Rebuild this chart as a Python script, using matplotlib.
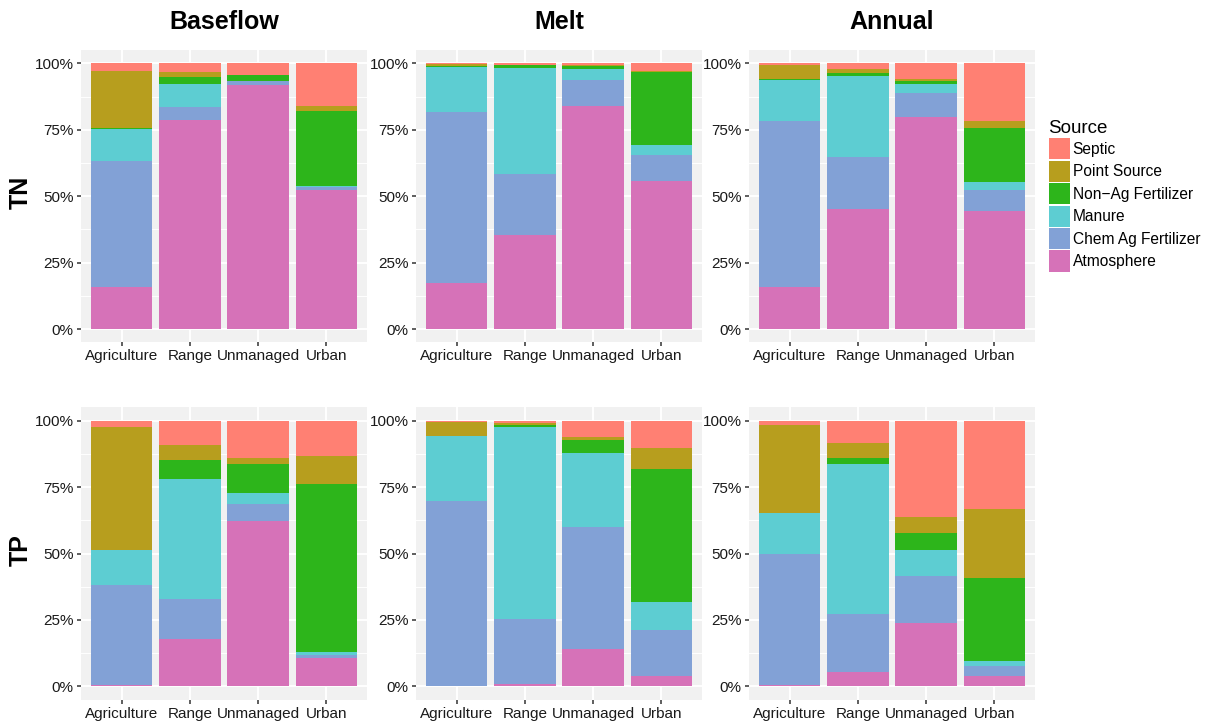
import numpy as np
import matplotlib.pyplot as plt
from matplotlib.patches import Patch
from matplotlib.ticker import FixedLocator, FuncFormatter

plt.rcParams['font.family'] = ['Liberation Sans', 'DejaVu Sans']

land_use = ["Agriculture", "Range", "Unmanaged", "Urban"]
# stacking order, bottom to top
sources = ["Atmosphere", "Chem Ag Fertilizer", "Manure",
           "Non\u2212Ag Fertilizer", "Point Source", "Septic"]
colors = ["#d672b8", "#82a1d6", "#5dcdd2", "#2db51b", "#b79e1e", "#ff8073"]

seasons = ["Baseflow", "Melt", "Annual"]
nutrients = ["TN", "TP"]

# percent share per land use, columns follow `sources`
tn_baseflow = [[15.7, 47.6, 11.9, 0.3, 21.7, 2.8],
               [78.8, 4.8, 8.6, 2.7, 1.8, 3.3],
               [91.9, 1.3, 0.3, 2.0, 0.1, 4.4],
               [52.5, 0.9, 0.6, 28.1, 2.0, 15.9]]
tn_melt = [[17.2, 64.6, 16.9, 0.3, 0.6, 0.4],
           [35.5, 22.9, 39.8, 1.0, 0.3, 0.5],
           [84.1, 9.6, 4.2, 1.2, 0.2, 0.7],
           [55.8, 9.7, 3.8, 27.6, 0.2, 2.9]]
tn_annual = [[15.9, 62.2, 15.5, 0.3, 5.5, 0.6],
             [45.1, 19.6, 30.4, 1.1, 1.5, 2.3],
             [79.6, 9.2, 3.4, 1.0, 0.7, 6.1],
             [44.4, 8.0, 3.1, 20.2, 2.6, 21.7]]
tp_baseflow = [[0.5, 37.6, 13.2, 0.0, 46.3, 2.4],
               [17.7, 15.1, 45.2, 7.2, 5.6, 9.2],
               [62.2, 6.4, 4.1, 11.1, 2.1, 14.1],
               [10.8, 0.9, 1.1, 63.3, 10.6, 13.3]]
tp_melt = [[0.3, 69.4, 24.5, 0.0, 5.2, 0.6],
           [0.9, 24.4, 72.4, 0.8, 0.5, 1.0],
           [13.9, 46.0, 27.9, 5.0, 1.0, 6.2],
           [3.9, 17.2, 10.6, 50.1, 7.9, 10.3]]
tp_annual = [[0.4, 49.6, 15.1, 0.0, 33.1, 1.8],
             [5.3, 21.8, 56.6, 2.3, 5.6, 8.4],
             [23.7, 18.0, 9.8, 6.4, 6.0, 36.1],
             [3.9, 3.8, 1.8, 31.2, 26.0, 33.3]]

panels = {("TN", "Baseflow"): tn_baseflow, ("TN", "Melt"): tn_melt,
          ("TN", "Annual"): tn_annual, ("TP", "Baseflow"): tp_baseflow,
          ("TP", "Melt"): tp_melt, ("TP", "Annual"): tp_annual}

W, H = 1213, 723
fig = plt.figure(figsize=(W / 100, H / 100), dpi=100)

col_left = [80.8, 415.8, 748.8]
col_width = 286.5
row_top = [50.0, 407.4]
row_height = 292.3


def facet(ax, data):
    vals = np.array(data)
    x = np.arange(1, len(land_use) + 1)
    bottom = np.zeros(len(land_use))
    for j in range(len(sources)):
        ax.bar(x, vals[:, j], bottom=bottom, width=0.9, color=colors[j],
               linewidth=0, zorder=3)
        bottom += vals[:, j]
    ax.set_facecolor("#f1f1f1")
    ax.set_xlim(0.4, 4.6)
    ax.set_ylim(-5, 105)
    ax.set_xticks(x)
    ax.set_xticklabels(land_use)
    ax.yaxis.set_major_locator(FixedLocator([0, 25, 50, 75, 100]))
    ax.yaxis.set_minor_locator(FixedLocator([12.5, 37.5, 62.5, 87.5]))
    ax.yaxis.set_major_formatter(FuncFormatter(lambda v, p: f"{v:.0f}%"))
    ax.grid(which="major", color="white", linewidth=1.4, zorder=0)
    ax.grid(which="minor", axis="y", color="white", linewidth=0.7, zorder=0)
    ax.tick_params(which="major", length=3, width=1.1, color="#333333",
                   labelsize=11, labelcolor="#1a1a1a", pad=2)
    ax.tick_params(which="minor", length=0)
    for s in ax.spines.values():
        s.set_visible(False)
    ax.set_axisbelow(True)


for r, nut in enumerate(nutrients):
    for c, season in enumerate(seasons):
        left = col_left[c] / W
        bottom = 1 - (row_top[r] + row_height) / H
        ax = fig.add_axes([left, bottom, col_width / W, row_height / H])
        facet(ax, panels[(nut, season)])
        if r == 0:
            fig.text((col_left[c] + col_width / 2) / W, 1 - 22 / H, season,
                     ha="center", va="center", fontsize=18, fontweight="bold")
    fig.text(20.5 / W, 1 - (row_top[r] + row_height / 2 - 3.5) / H, nut,
             ha="center", va="center", rotation=90, fontsize=18,
             fontweight="bold")

handles = [Patch(facecolor=colors[j], edgecolor="none")
           for j in reversed(range(len(sources)))]
labels = list(reversed(sources))
leg = fig.legend(handles, labels, title="Source", loc="upper left",
                 bbox_to_anchor=(1048.5 / W, 1 - 120 / H), frameon=False,
                 fontsize=11.2, title_fontsize=13.5, handlelength=1.35,
                 handleheight=1.72, labelspacing=0.08, handletextpad=0.2,
                 borderaxespad=0, borderpad=0, alignment="left")

fig.savefig("out.png", dpi=100)
